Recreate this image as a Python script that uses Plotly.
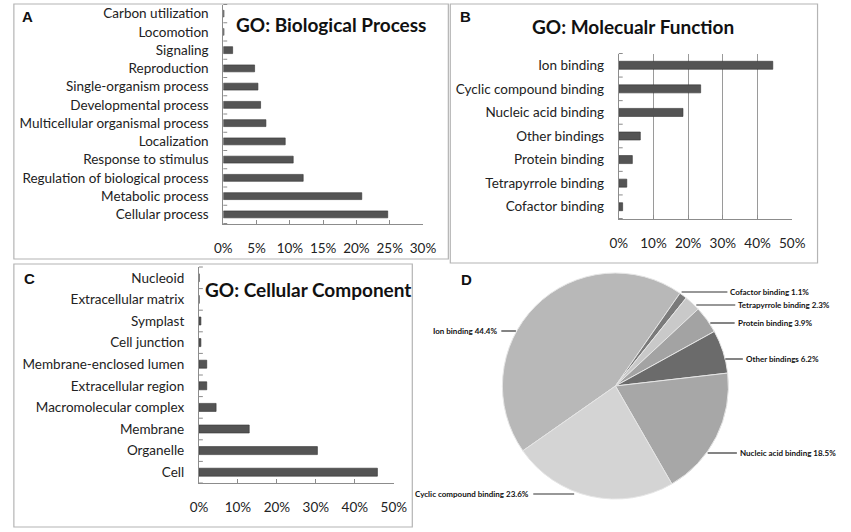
import math
import plotly.graph_objects as go

# ---- data ----
bp_terms = ["Carbon utilization", "Locomotion", "Signaling", "Reproduction",
            "Single-organism process", "Developmental process",
            "Multicellular organismal process", "Localization",
            "Response to stimulus", "Regulation of biological process",
            "Metabolic process", "Cellular process"]
bp_pct = [0.1, 0.1, 1.4, 4.7, 5.2, 5.6, 6.4, 9.3, 10.5, 12.0, 20.8, 24.7]

mf_terms = ["Ion binding", "Cyclic compound binding", "Nucleic acid binding",
            "Other bindings", "Protein binding", "Tetrapyrrole binding",
            "Cofactor binding"]
mf_pct = [44.4, 23.6, 18.5, 6.2, 3.9, 2.3, 1.1]

cc_terms = ["Nucleoid", "Extracellular matrix", "Symplast", "Cell junction",
            "Membrane-enclosed lumen", "Extracellular region",
            "Macromolecular complex", "Membrane", "Organelle", "Cell"]
cc_pct = [0.05, 0.05, 0.5, 0.5, 2.0, 2.0, 4.4, 12.9, 30.4, 45.8]

pie_terms = ["Ion binding", "Cofactor binding", "Tetrapyrrole binding",
             "Protein binding", "Other bindings", "Nucleic acid binding",
             "Cyclic compound binding"]
pie_pct = [44.4, 1.1, 2.3, 3.9, 6.2, 18.5, 23.6]
pie_colors = ["#b8b8b8", "#7a7a7a", "#c9c9c9", "#a3a3a3", "#6b6b6b", "#a7a7a7", "#d4d4d4"]

W, H = 851, 532
FONT = "Lato"
TXT = "#222222"
BAR = "#545454"
AXC = "#8c8c8c"


def px(x):
    return x / W


def py(y):
    return 1 - y / H


fig = go.Figure()


def bar_panel(n, terms, vals, xdom, ydom, xmax, dtick, grid, bw):
    fig.add_trace(go.Bar(x=vals, y=terms, orientation="h", xaxis="x" + n, yaxis="y" + n,
                         marker=dict(color=BAR, line=dict(color="#333333", width=0.6)),
                         width=bw, showlegend=False, hoverinfo="x+y"))
    fig.update_layout(**{
        "xaxis" + n: dict(domain=[px(xdom[0]), px(xdom[1])], anchor="y" + n, range=[0, xmax],
                          dtick=dtick, ticksuffix="%", showgrid=grid, gridcolor="#9a9a9a",
                          gridwidth=1, zeroline=False, showline=True, linecolor=AXC,
                          ticks="inside", ticklen=4, tickcolor=AXC,
                          ticklabelstandoff=12, tickfont=dict(family=FONT, size=13.5, color=TXT)),
        "yaxis" + n: dict(domain=[py(ydom[1]), py(ydom[0])], anchor="x" + n,
                          autorange="reversed", showline=True, linecolor=AXC,
                          ticks="", showgrid=False, ticklabelstandoff=11,
                          tickfont=dict(family=FONT, size=13.5, color=TXT)),
    })


panels = [("", bp_terms, bp_pct, (220, 425), (4.5, 223.5), 30, 5, False, 0.38),
          ("2", mf_terms, mf_pct, (626, 804), (53.5, 218.5), 50, 10, True, 0.34),
          ("3", cc_terms, cc_pct, (195, 395), (267, 483), 50, 10, False, 0.37)]
for p in panels:
    bar_panel(*p)

# ---- pie (D) ----
cx, cy, r = 622.5, 386, 116
fig.add_trace(go.Pie(values=pie_pct, labels=pie_terms, sort=False, direction="clockwise",
                     rotation=-125, textinfo="none", textposition="inside", showlegend=False,
                     marker=dict(colors=pie_colors, line=dict(color="#e6e6e6", width=1)),
                     domain=dict(x=[px(cx - r), px(cx + r)], y=[py(cy + r), py(cy - r)])))

# label rows (pixel y), side and leader length for each pie slice
label_y = [331, 292, 305, 323, 359, 453, 494]
label_side = ["L", "R", "R", "R", "R", "R", "L"]
label_gap = [15, 47, 40, 25, 18, 30, 42]

shapes = []
annos = []
for term, val, ly, side, gap in zip(pie_terms, pie_pct, label_y, label_side, label_gap):
    dx = math.sqrt(max(r * r - (ly - cy) ** 2, 0))
    if side == "R":
        x0 = cx + dx
        x1 = x0 + gap
        anc = "left"
        tx = x1 + 1
    else:
        x0 = cx - dx
        x1 = x0 - gap
        anc = "right"
        tx = x1 - 2
    shapes.append(dict(type="line", xref="paper", yref="paper", x0=px(x0), x1=px(x1),
                       y0=py(ly), y1=py(ly), line=dict(color="#333333", width=1.2)))
    annos.append(dict(xref="paper", yref="paper", x=px(tx), y=py(ly), xanchor=anc,
                      yanchor="middle", showarrow=False, text="<b>%s %.1f%%</b>" % (term, val),
                      font=dict(family=FONT, size=8, color="#111111")))

# panel frames
for x0, y0, x1, y1 in [(5, 4, 451, 259), (453, 4, 830, 263), (5, 264, 414, 527)]:
    shapes.append(dict(type="rect", xref="paper", yref="paper", x0=px(x0), x1=px(x1),
                       y0=py(y1), y1=py(y0), line=dict(color="#b4b4b4", width=1.2)))

# category boundary tick marks on the y axes
for n, terms, vals, xdom, ydom, *_ in panels:
    nc = len(terms)
    step = (ydom[1] - ydom[0]) / nc
    for k in range(nc + 1):
        yy = ydom[0] + k * step
        shapes.append(dict(type="line", xref="paper", yref="paper", x0=px(xdom[0]), x1=px(xdom[0] + 4),
                           y0=py(yy), y1=py(yy), line=dict(color=AXC, width=1)))

# titles and panel letters
for text, x, y, anc in [("GO: Biological Process", 231, 25, "left"),
                        ("GO: Molecualr Function", 641, 27, "center"),
                        ("GO: Cellular Component", 199, 289, "left")]:
    annos.append(dict(xref="paper", yref="paper", x=px(x), y=py(y), xanchor=anc, yanchor="middle",
                      showarrow=False, text="<b>%s</b>" % text,
                      font=dict(family=FONT, size=19, color="#111111")))
for letter, x, y in [("A", 11, 17), ("B", 461, 16), ("C", 13, 278), ("D", 462, 279)]:
    annos.append(dict(xref="paper", yref="paper", x=px(x), y=py(y), xanchor="left", yanchor="middle",
                      showarrow=False, text="<b>%s</b>" % letter,
                      font=dict(family="Liberation Sans", size=15, color="#111111")))

fig.update_layout(width=W, height=H, margin=dict(l=0, r=0, t=0, b=0),
                  paper_bgcolor="white", plot_bgcolor="white",
                  shapes=shapes, annotations=annos)

fig.write_html("out.html", config={"displayModeBar": False},
               post_script="document.body.style.margin='0px';")
